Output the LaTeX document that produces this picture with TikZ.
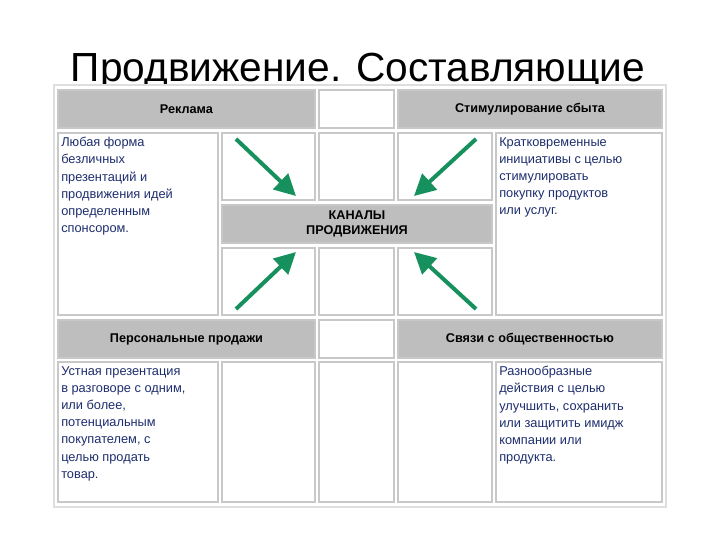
\documentclass[tikz,border=0pt]{standalone}
\usepackage{fontspec}
\setmainfont{Liberation Sans}
\usetikzlibrary{arrows.meta}
\definecolor{hdr}{HTML}{BEBEBE}
\definecolor{brd}{HTML}{C8C8C8}
\definecolor{txt}{HTML}{1E2E6E}
\definecolor{arr}{HTML}{16915E}
\tikzset{
  cell/.style={draw=brd,line width=1.5pt,fill=white},
  hcell/.style={draw=brd,line width=1.5pt,fill=hdr},
  htext/.style={font=\bfseries\fontsize{9.5}{11.5}\selectfont,align=center},
  btext/.style={font=\fontsize{9.6}{12.9}\selectfont,text=txt,align=left,anchor=north west,inner sep=0pt},
  garrow/.style={draw=arr,line width=3pt,-{Triangle[length=16pt,width=16pt]}}
}
\begin{document}
\begin{tikzpicture}[x=0.75pt,y=-0.75pt]
\useasboundingbox (0,0) rectangle (720,540);
\node (title) at (358,72) {\fontsize{30.5}{34}\selectfont Продвижение. Составляющие};
\draw[brd!60,line width=0.8pt,fill=white] (54,85) rectangle (666,507);
% header row
\draw[hcell] (58,90) rectangle (315,128);
\draw[cell] (319,90) rectangle (394,128);
\draw[hcell] (398,90) rectangle (662,128);
\node[htext] (h1) at (186.5,109) {Реклама};
\node[htext] (h2) at (530,109) {Стимулирование сбыта};
% middle
\draw[cell] (58,133) rectangle (218,315);
\draw[cell] (222,133) rectangle (315,200);
\draw[cell] (319,133) rectangle (394,200);
\draw[cell] (398,133) rectangle (492,200);
\draw[cell] (496,133) rectangle (662,315);
\draw[hcell] (222,205) rectangle (492,243);
\draw[cell] (222,248) rectangle (315,315);
\draw[cell] (319,248) rectangle (394,315);
\draw[cell] (398,248) rectangle (492,315);
\node[htext] (k) at (357,224) {КАНАЛЫ\\ПРОДВИЖЕНИЯ};
\node[btext] (t1) at (61,137) {Любая форма\\безличных\\презентаций и\\продвижения идей\\определенным\\спонсором.};
\node[btext] (t2) at (499,137) {Кратковременные\\инициативы с целью\\стимулировать\\покупку продуктов\\или услуг.};
% bottom header
\draw[hcell] (58,320) rectangle (315,358);
\draw[cell] (319,320) rectangle (394,358);
\draw[hcell] (398,320) rectangle (662,358);
\node[htext] (h3) at (186.5,339) {Персональные продажи};
\node[htext] (h4) at (530,339) {Связи с общественностью};
% bottom row
\draw[cell] (58,362) rectangle (218,502);
\draw[cell] (222,362) rectangle (315,502);
\draw[cell] (319,362) rectangle (394,502);
\draw[cell] (398,362) rectangle (492,502);
\draw[cell] (496,362) rectangle (662,502);
\node[btext] (t3) at (61,366) {Устная презентация\\в разговоре с одним,\\или более,\\потенциальным\\покупателем, с\\целью продать\\товар.};
\node[btext] (t4) at (499,366) {Разнообразные\\действия с целью\\улучшить, сохранить\\или защитить имидж\\компании или\\продукта.};
% arrows
\coordinate (a1) at (236,139); \coordinate (b1) at (296,196);
\coordinate (a2) at (476,139); \coordinate (b2) at (414,196);
\coordinate (a3) at (236,309); \coordinate (b3) at (296,252);
\coordinate (a4) at (476,309); \coordinate (b4) at (414,252);
\draw[garrow] (a1) -- (b1);
\draw[garrow] (a2) -- (b2);
\draw[garrow] (a3) -- (b3);
\draw[garrow] (a4) -- (b4);
\end{tikzpicture}
\end{document}
